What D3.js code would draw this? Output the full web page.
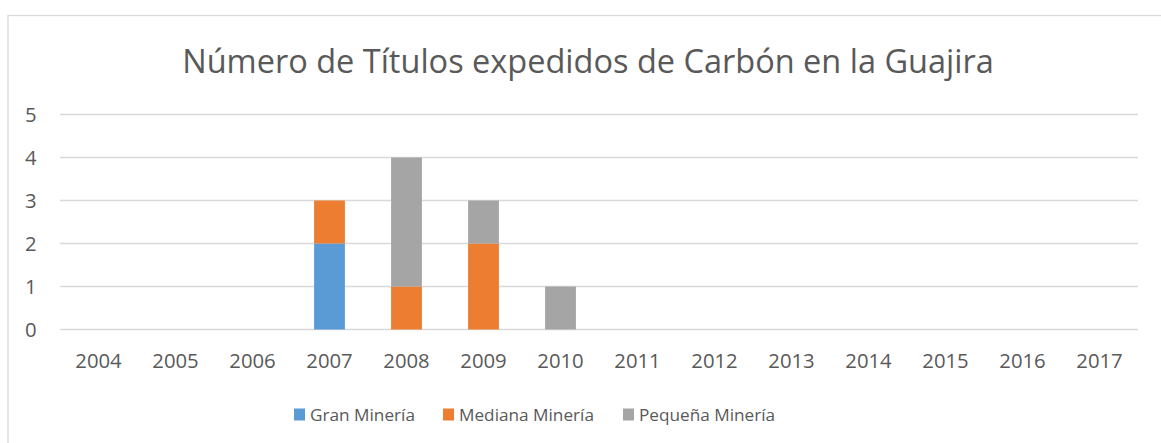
<!DOCTYPE html>
<html><head><meta charset="utf-8">
<script src="https://cdn.jsdelivr.net/npm/d3@7"></script>
<style>body{margin:0;background:#fff}svg{display:block}</style>
</head><body>
<svg id="c" width="1161" height="443"></svg>
<script>
const years = ["2004","2005","2006","2007","2008","2009","2010","2011","2012","2013","2014","2015","2016","2017"];
const gran = [0,0,0,2,0,0,0,0,0,0,0,0,0,0];
const mediana = [0,0,0,1,1,2,0,0,0,0,0,0,0,0];
const pequena = [0,0,0,0,3,1,1,0,0,0,0,0,0,0];
const seriesNames = ["Gran Minería","Mediana Minería","Pequeña Minería"];
const colors = ["#5B9BD5","#ED7D31","#A5A5A5"];
const yTicks = [0,1,2,3,4,5];
const title = "Número de Títulos expedidos de Carbón en la Guajira";

const svg = d3.select("#c");
const font = "'Open Sans', 'Noto Sans', sans-serif";
const textColor = "#595959";

// border
svg.append("rect").attr("x",8).attr("y",15.5).attr("width",1170).attr("height",440)
  .attr("fill","none").attr("stroke","#d9d9d9").attr("stroke-width",1.3);

const x = d3.scaleBand().domain(years).range([60,1138]).paddingInner(0.6).paddingOuter(0.3);
const y = d3.scaleLinear().domain([0,5]).range([329.5,114.5]);

// grid
svg.append("g").selectAll("line").data(yTicks).join("line")
  .attr("x1",60).attr("x2",1138).attr("y1",d=>y(d)).attr("y2",d=>y(d))
  .attr("stroke","#d9d9d9").attr("stroke-width",1.3);

// y labels
svg.append("g").selectAll("text").data(yTicks).join("text")
  .attr("x",36.5).attr("y",d=>y(d)+7).attr("text-anchor","end")
  .attr("font-family",font).attr("font-size",20.3).attr("fill",textColor).text(d=>d);

// x labels
svg.append("g").selectAll("text").data(years).join("text")
  .attr("x",d=>x(d)+x.bandwidth()/2).attr("y",368).attr("text-anchor","middle")
  .attr("font-family",font).attr("font-size",20.3).attr("fill",textColor).text(d=>d);

// stacked bars
const rows = years.map((yr,i)=>({year:yr,g:gran[i],m:mediana[i],p:pequena[i]}));
const stack = d3.stack().keys(["g","m","p"])(rows);
svg.append("g").selectAll("g").data(stack).join("g").attr("fill",(d,i)=>colors[i])
  .selectAll("rect").data(d=>d.filter(s=>s[1]-s[0]>0)).join("rect")
  .attr("x",d=>x(d.data.year)).attr("width",x.bandwidth())
  .attr("y",d=>y(d[1])).attr("height",d=>y(d[0])-y(d[1]));

// title
svg.append("text").attr("x",588).attr("y",73).attr("text-anchor","middle")
  .attr("font-family",font).attr("font-size",32.5).attr("fill",textColor).text(title);

// legend
const legX = [294,443,623];
const lg = svg.append("g").selectAll("g").data(seriesNames).join("g")
  .attr("transform",(d,i)=>`translate(${legX[i]},0)`);
lg.append("rect").attr("x",0).attr("y",408.5).attr("width",11).attr("height",12).attr("fill",(d,i)=>colors[i]);
lg.append("text").attr("x",16).attr("y",421).attr("font-family",font).attr("font-size",17.2)
  .attr("fill",textColor).text(d=>d);
</script>
</body></html>
